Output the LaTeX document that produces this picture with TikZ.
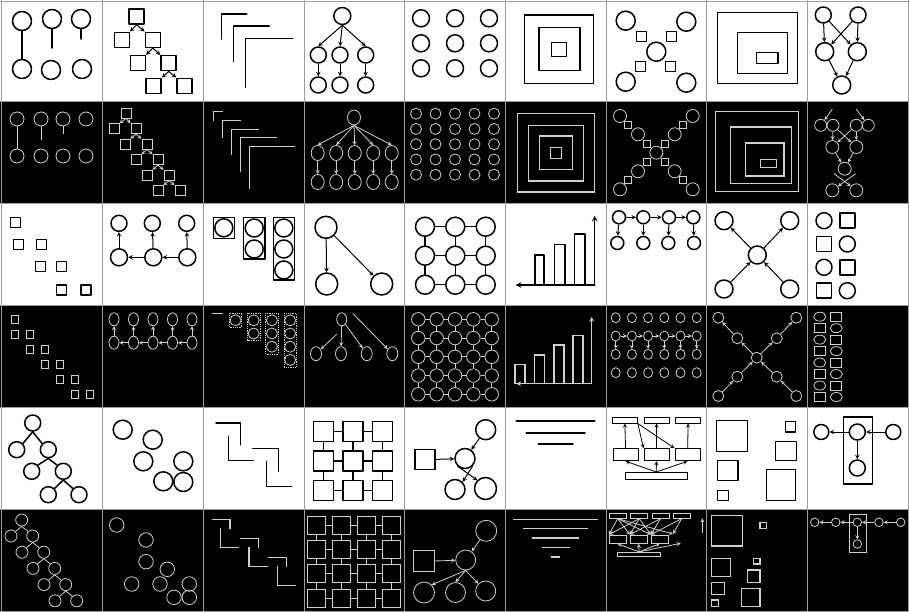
\documentclass[tikz,border=0pt]{standalone}
\usetikzlibrary{shapes.geometric}
\definecolor{chalk}{HTML}{D0D0D0}
\definecolor{gridline}{HTML}{9C9C9C}
\begin{document}
\begin{tikzpicture}[x=1pt, y=-1pt,
  pen/.style={line width=1.5pt, line cap=round, line join=round},
  chalkpen/.style={draw=chalk, line width=0.8pt},
  wcirc/.style={circle, draw, pen, inner sep=0pt, minimum size=#1},
  wbox/.style={rectangle, draw, pen, inner sep=0pt, minimum size=#1},
  wrect/.style 2 args={rectangle, draw, line width=1pt, inner sep=0pt, minimum width=#1, minimum height=#2},
  kcirc/.style={circle, chalkpen, inner sep=0pt, minimum size=#1},
  kbox/.style={rectangle, chalkpen, inner sep=0pt, minimum size=#1},
  kell/.style 2 args={ellipse, chalkpen, inner sep=0pt, minimum width=#1, minimum height=#2},
  krect/.style 2 args={rectangle, chalkpen, inner sep=0pt, minimum width=#1, minimum height=#2},
  warrow/.style={->, >=stealth, line width=1pt},
  karrow/.style={->, >=stealth, chalkpen}
]
\useasboundingbox (0,0) rectangle (909,612);
\fill[white] (0,0) rectangle (909,612);
\foreach \y in {101.5,305.5,509.5}
  \fill[black] (0,\y) rectangle (909,\y+102);

\foreach \n/\x/\y in {1/22/21,2/52/19,3/81/19,4/22/69,5/51/70,6/82/69}
  \node[wcirc=19] (c11o\n) at (\x,\y) {};
\coordinate (c11s2) at (52,48);
\coordinate (c11s3) at (81,39);
\draw[pen] (c11o1) -- (c11o4);
\draw[pen] (c11o2) -- (c11s2);
\draw[pen] (c11o3) -- (c11s3);

\foreach \i/\x in {1/17,2/41,3/63,4/86} {
  \node[kcirc=14] (c21t\i) at (\x,119) {};
  \node[kcirc=14] (c21b\i) at (\x,156) {};
}
\coordinate (c21s2) at (41,140);
\coordinate (c21s3) at (63,134);
\draw[chalkpen] (c21t1) -- (c21b1);
\draw[chalkpen] (c21t2) -- (c21s2);
\draw[chalkpen] (c21t3) -- (c21s3);

\foreach \n/\x/\y in {a/136.7/16.5,b/121.8/39.8,c/152.8/39.8,d/137.8/63.2,e/168.7/63.2,f/153.7/85.8,g/184.5/85.8}
  \node[wbox=15] (c12\n) at (\x,\y) {};
\foreach \pa/\lf/\rt in {a/b/c,c/d/e,e/f/g} {
  \draw[warrow] (c12\pa.south) -- (c12\lf.north east);
  \draw[warrow] (c12\pa.south) -- (c12\rt.north west);
}

\node[kbox=10] (c22a) at (126,113) {};
\foreach \i in {1,...,5} {
  \node[kbox=10] (c22l\i) at ({114+11*(\i-1)},{128.7+15.5*(\i-1)}) {};
  \node[kbox=10] (c22r\i) at ({136+11*(\i-1)},{128.7+15.5*(\i-1)}) {};
}
\draw[karrow] (c22a.south) -- (c22l1.north east);
\draw[karrow] (c22a.south) -- (c22r1.north west);
\foreach \i/\k in {1/2,2/3,3/4,4/5} {
  \draw[karrow] (c22r\i.south) -- (c22l\k.north east);
  \draw[karrow] (c22r\i.south) -- (c22r\k.north west);
}

\draw[pen] (221.7,39) -- (221.7,14) -- (246.7,14);
\draw[pen] (233.3,61.7) -- (233.3,26) -- (269.3,26);
\draw[pen] (245.7,87.3) -- (245.7,38.3) -- (292.7,38.3);

\foreach \i in {0,...,4}
  \draw[chalkpen, line width=1pt] ({213.3+9*\i},{112+8.6*\i+8.6*(\i+1)}) -- ({213.3+9*\i},{112+8.6*\i}) -- ({213.3+9*\i+9.2*(\i+1)},{112+8.6*\i});

\node[wcirc=17] (c14r) at (342.3,16) {};
\foreach \i/\x in {1/318.3,2/340,3/365.7} {
  \node[wcirc=16] (c14c\i) at (\x,55) {};
  \node[wcirc=16] (c14g\i) at (\x,85) {};
  \draw[warrow] (c14r.south) -- (c14c\i.north);
  \draw[warrow] (c14c\i) -- (c14g\i);
}

\node[kell={13}{15}] (c24r) at (354,117.5) {};
\foreach \i in {1,...,5} {
  \node[kell={13}{15}] (c24c\i) at ({317.7+18.5*(\i-1)},153) {};
  \node[kell={13}{15}] (c24g\i) at ({317.7+18.5*(\i-1)},182) {};
  \draw[karrow] (c24r.south) -- (c24c\i.north);
  \draw[karrow] (c24c\i) -- (c24g\i);
}

\foreach \i/\x in {1/421,2/455,3/489}
  \foreach \j/\y in {1/18.3,2/43.3,3/68.3}
    \node[wcirc=17] (c15n\i\j) at (\x,\y) {};

\foreach \i in {1,...,5}
  \foreach \j in {1,...,5}
    \node[kcirc=11] (c25n\i\j) at ({416+19.5*(\i-1)},{113.7+15.25*(\j-1)}) {};

\draw[pen] (524.7,15) rectangle (593.3,83.3);
\draw[pen] (539,27.7) rectangle (580,70.7);
\draw[pen] (551.7,42.3) rectangle (566.3,56.7);

\draw[chalkpen, line width=1.2pt] (517.3,113.7) rectangle (594.7,192);
\draw[chalkpen, line width=1.2pt] (528.3,125.3) rectangle (583.3,181);
\draw[chalkpen, line width=1.2pt] (539.7,136) rectangle (572.3,169.7);
\draw[chalkpen, line width=1.2pt] (550.7,147.7) rectangle (561.3,158.7);

\foreach \n/\x/\y in {tl/625.7/20.7,tr/686.3/21.7,m/656.3/51.7,bl/625.7/81.7,br/686.3/82.7}
  \node[wcirc=19] (c17\n) at (\x,\y) {};
\foreach \n/\x/\y in {1/641.3/36.7,2/671.3/36.7,3/640.7/66.7,4/670.7/66.7}
  \node[wbox=10] (c17q\n) at (\x,\y) {};

\foreach \n/\x/\y in {1/620/116,2/638/134.3,3/656.3/152.7,4/674.7/134.3,5/692.7/116,6/638/171.3,7/620/189.3,8/674.7/171.3,9/692.7/189.3}
  \node[kcirc=13] (c27o\n) at (\x,\y) {};
\foreach \n/\x/\y in {1/628/125.3,2/646.7/143.7,3/665/143.7,4/683.3/125.3,5/646.7/162,6/628/180.3,7/665/162,8/683.3/180.3}
  \node[kbox=7] (c27q\n) at (\x,\y) {};

\draw[pen] (717.3,12.3) rectangle (797.3,83.3);
\draw[pen] (737.3,32.3) rectangle (787.3,73.3);
\draw[pen] (756.7,52.7) rectangle (778,63.3);

\draw[chalkpen, line width=1.2pt] (715.7,111.3) rectangle (798.3,191.3);
\draw[chalkpen, line width=1.2pt] (730.7,127) rectangle (791.3,183.7);
\draw[chalkpen, line width=1.2pt] (745.7,143) rectangle (784,176);
\draw[chalkpen, line width=1.2pt] (760.7,159.3) rectangle (776.3,167.7);

\node[wcirc=16] (c19a) at (823.3,15) {};
\node[wcirc=16] (c19b) at (858,15) {};
\node[wcirc=18] (c19c) at (824.7,51.7) {};
\node[wcirc=18] (c19d) at (857.3,51.7) {};
\node[wcirc=18] (c19e) at (841.7,85) {};
\foreach \s/\t in {a/c,a/d,b/d,b/c,c/e,d/e}
  \draw[warrow] (c19\s) -- (c19\t);

\foreach \i/\x in {1/820.7,2/833,3/856.3,4/868.3}
  \node[kcirc=12] (c29a\i) at (\x,125.3) {};
\node[kcirc=13] (c29m1) at (832.3,147) {};
\node[kcirc=13] (c29m2) at (856.3,147) {};
\node[kcirc=13] (c29n) at (844.7,168.7) {};
\node[kcirc=13] (c29b1) at (832.3,190.3) {};
\node[kcirc=13] (c29b2) at (856.3,190.3) {};
\coordinate (c29p) at (832.3,109.3);
\coordinate (c29q) at (856.3,109.3);
\coordinate (c29u) at (834,173.7);
\coordinate (c29v) at (855.7,173.7);
\draw[karrow] (c29p) -- (c29a1);
\draw[karrow] (c29q) -- (c29a4);
\foreach \s/\t in {a2/m1,a2/m2,a3/m2,a3/m1,m1/n,m2/n}
  \draw[karrow] (c29\s) -- (c29\t);
\draw[karrow] (c29u) -- (c29b2);
\draw[karrow] (c29v) -- (c29b1);

\foreach \n/\x/\y in {1/15.7/222.3,2/18.3/244.7,3/41.7/244.7,4/40.7/266.7,5/61.7/266.7,6/61.7/290,7/86/290}
  \node[wbox=10] (c31q\n) at (\x,\y) {};

\node[kbox=7.5] (c41q0) at (15,319.3) {};
\foreach \i in {1,...,5} {
  \node[kbox=7.5] (c41l\i) at ({15+15*(\i-1)},{334.3+15*(\i-1)}) {};
  \node[kbox=7.5] (c41r\i) at ({30+15*(\i-1)},{334.3+15*(\i-1)}) {};
}

\foreach \i/\x in {1/119,2/152.3,3/186.7}
  \node[wcirc=16] (c32t\i) at (\x,223.3) {};
\foreach \i/\x in {1/119,2/153.3,3/187.3}
  \node[wcirc=17] (c32b\i) at (\x,257.3) {};
\foreach \i in {1,2,3}
  \draw[warrow] (c32b\i) -- (c32t\i);
\draw[warrow] (c32b3) -- (c32b2);
\draw[warrow] (c32b2) -- (c32b1);

\foreach \i in {1,...,5} {
  \node[kell={10}{13}] (c42t\i) at ({114+19.5*(\i-1)},319.3) {};
  \node[kell={10}{13}] (c42b\i) at ({114+19.5*(\i-1)},342.7) {};
  \draw[karrow] (c42b\i) -- (c42t\i);
}
\foreach \i/\k in {2/1,3/2,4/3,5/4}
  \draw[karrow] (c42b\i) -- (c42b\k);

\draw[pen] (213.3,217.3) rectangle (234.3,238.3);
\draw[pen] (243.3,217.3) rectangle (265,259);
\draw[pen] (273.3,217.3) rectangle (294.3,280);
\node[wcirc=18] (c33a1) at (223.8,227.8) {};
\node[wcirc=18] (c33b1) at (254.2,228) {};
\node[wcirc=18] (c33b2) at (254.2,249) {};
\node[wcirc=18] (c33c1) at (283.8,228) {};
\node[wcirc=18] (c33c2) at (283.8,249) {};
\node[wcirc=18] (c33c3) at (283.8,270) {};

\draw[chalkpen] (211.7,313.3) -- (222.7,313.3);
\foreach \k in {1,...,4} {
  \draw[chalkpen, densely dotted] ({229.3+18.2*(\k-1)},313.3) rectangle ({241.8+18.2*(\k-1)},{314.3+13.2*\k});
  \foreach \m in {1,...,\k}
    \node[kcirc=11] (c43n\k\m) at ({235.5+18.2*(\k-1)},{320.3+13.2*(\m-1)}) {};
}

\node[wcirc=22] (c34r) at (326,227.3) {};
\node[wcirc=22] (c34a) at (326.7,284) {};
\node[wcirc=22] (c34b) at (381.7,284) {};
\draw[warrow] (c34r) -- (c34a);
\draw[warrow] (c34r) -- (c34b);

\node[kell={10}{13}] (c44r) at (341.7,319.3) {};
\foreach \i/\x in {1/316,2/341,3/366.7,4/392.3}
  \node[kell={11}{14}] (c44c\i) at (\x,353.7) {};
\coordinate (c44p) at (336.7,334.3);
\coordinate (c44q) at (352.7,313.3);
\draw[karrow] (c44r) -- (c44c2);
\draw[karrow] (c44r) -- (c44c3);
\draw[karrow] (c44p) -- (c44c1);
\draw[karrow] (c44q) -- (c44c4);

\foreach \i/\x in {1/425,2/455.3,3/485.7}
  \foreach \j/\y in {1/226.7,2/255.7,3/284.7}
    \node[wcirc=19] (c35n\i\j) at (\x,\y) {};
\foreach \i/\k in {1/2,2/3}
  \foreach \j in {1,2,3} {
    \draw[pen] (c35n\i\j) -- (c35n\k\j);
    \draw[pen] (c35n\j\i) -- (c35n\j\k);
  }

\foreach \i in {1,...,5}
  \foreach \j in {1,...,5}
    \node[kcirc=13.5] (c45n\i\j) at ({418.3+18.35*(\i-1)},{319.3+18.75*(\j-1)}) {};
\foreach \i/\k in {1/2,2/3,3/4,4/5}
  \foreach \j in {1,...,5} {
    \draw[chalkpen] (c45n\i\j) -- (c45n\k\j);
    \draw[chalkpen] (c45n\j\i) -- (c45n\j\k);
  }

\coordinate (c36o) at (594.7,285);
\coordinate (c36x) at (515.7,285);
\coordinate (c36y) at (594.7,215.7);
\draw[pen] (535,285) rectangle (544,255);
\draw[pen] (554.7,285) rectangle (565,244.7);
\draw[pen] (574.7,285) rectangle (585,234);
\draw[pen, ->, >=stealth] (c36o) -- (c36x);
\draw[pen, ->, >=stealth] (c36o) -- (c36y);

\coordinate (c46o) at (591.7,383.7);
\coordinate (c46x) at (516.3,383.7);
\coordinate (c46y) at (591.7,317);
\draw[chalkpen, line width=1.1pt] (515,383.7) rectangle (525,364.3);
\draw[chalkpen, line width=1.1pt] (534.7,383.7) rectangle (544.7,355);
\draw[chalkpen, line width=1.1pt] (554,383.7) rectangle (564,345);
\draw[chalkpen, line width=1.1pt] (573,383.7) rectangle (583,335.3);
\draw[karrow, line width=1.1pt] (c46o) -- (c46x);
\draw[karrow, line width=1.1pt] (c46o) -- (c46y);

\foreach \i/\x/\u in {1/619/617.3,2/643.3/643.3,3/669/668.3,4/693.3/694} {
  \node[wcirc=13] (c37t\i) at (\x,217.3) {};
  \node[wcirc=13] (c37b\i) at (\u,243) {};
  \draw[warrow] (c37t\i) -- (c37b\i);
}
\foreach \i/\k in {1/2,2/3,3/4}
  \draw[warrow] (c37t\i) -- (c37t\k);

\foreach \i in {1,...,6}
  \foreach \j/\y in {1/317.7,2/336,3/354.3,4/372.7}
    \node[kell={9}{10}] (c47n\i\j) at ({615.7+16.2*(\i-1)},\y) {};
\foreach \i/\k in {1/2,2/3,3/4,4/5,5/6}
  \draw[karrow] (c47n\i2) -- (c47n\k2);
\foreach \i in {1,...,6}
  \draw[karrow] (c47n\i2) -- (c47n\i3);

\foreach \n/\x/\y in {tl/724/220.7,tr/789.7/220.7,m/757.3/255,bl/724/289,br/789.7/289}
  \node[wcirc=18] (c38\n) at (\x,\y) {};
\foreach \s/\t in {m/tl,m/tr,bl/m,br/m}
  \draw[warrow] (c38\s) -- (c38\t);

\foreach \n/\x/\y in {tl/718.3/317.7,tr/796.3/317.7,ul/737.3/338.3,ur/776.7/338.3,m/756.7/357.7,dl/737.3/376.7,dr/776.7/376.7,bl/718.3/396,br/796.3/396}
  \node[kcirc=11] (c48\n) at (\x,\y) {};
\foreach \s/\t in {m/ul,ul/tl,m/ur,ur/tr,bl/dl,dl/m,br/dr,dr/m}
  \draw[karrow] (c48\s) -- (c48\t);

\node[wcirc=16] (c39a1) at (824,220.7) {};
\node[wbox=15] (c39a2) at (824,244) {};
\node[wcirc=16] (c39a3) at (824,267.3) {};
\node[wbox=15] (c39a4) at (824,290.7) {};
\node[wbox=15] (c39b1) at (847.3,220.7) {};
\node[wcirc=16] (c39b2) at (847.3,244) {};
\node[wbox=15] (c39b3) at (847.3,267.3) {};
\node[wcirc=16] (c39b4) at (847.3,290.7) {};

\foreach \k in {0,2,4,6} {
  \node[kell={12}{9}] (c49a\k) at (819.7,{316.7+11.47*\k}) {};
  \node[krect={11}{9}] (c49b\k) at (836.3,{316.7+11.47*\k}) {};
  \node[krect={11}{9}] (c49c\k) at (819.7,{316.7+11.47*(\k+1)}) {};
  \node[kell={12}{9}] (c49d\k) at (836.3,{316.7+11.47*(\k+1)}) {};
}

\foreach \n/\x/\y in {a/32.7/423,b/16.7/449.7,c/48.3/449.7,d/31.7/471.3,e/63.3/471.3,f/48.3/494.7,g/79/494.7}
  \node[wcirc=16] (c51\n) at (\x,\y) {};
\foreach \pa/\lf/\rt in {a/b/c,c/d/e,e/f/g} {
  \draw[pen] (c51\pa.south) -- (c51\lf.north east);
  \draw[pen] (c51\pa.south) -- (c51\rt.north west);
}

\node[kcirc=12] (c61a) at (21.7,520) {};
\foreach \i in {1,...,5} {
  \node[kcirc=12] (c61l\i) at ({11+11*(\i-1)},{536+16.2*(\i-1)}) {};
  \node[kcirc=12] (c61r\i) at ({32.7+11*(\i-1)},{536+16.2*(\i-1)}) {};
}
\draw[chalkpen] (c61a.south) -- (c61l1.north east);
\draw[chalkpen] (c61a.south) -- (c61r1.north west);
\foreach \i/\k in {1/2,2/3,3/4,4/5} {
  \draw[chalkpen] (c61r\i.south) -- (c61l\k.north east);
  \draw[chalkpen] (c61r\i.south) -- (c61r\k.north west);
}

\foreach \n/\x/\y in {1/122.7/429.7,2/152.7/439.7,3/143.3/461.3,4/183.3/461.3,5/163.3/481.3,6/183.3/482}
  \node[wcirc=19] (c52o\n) at (\x,\y) {};

\foreach \n/\x/\y in {1/116.7/525,2/146/540,3/146/561.7,4/167.3/569.3,5/131.7/584,6/160/584,7/189.3/584,8/174/597.3,9/189.3/597.3}
  \node[kcirc=14.5] (c62o\n) at (\x,\y) {};

\draw[pen] (216,423) -- (240.7,423) -- (240.7,444.7);
\draw[pen] (228.3,436.3) -- (228.3,460.3) -- (253.3,460.3);
\draw[pen] (252.7,448.7) -- (278.3,448.7) -- (278.3,471.3);
\draw[pen] (266.7,461.3) -- (266.7,486.3) -- (291.7,486.3);

\foreach \i in {0,1,2} {
  \draw[chalkpen, line width=1.1pt] ({211.7+28.3*\i},{519.3+19*\i}) -- ({230+28.3*\i},{519.3+19*\i}) -- ({230+28.3*\i},{529+19*\i});
  \draw[chalkpen, line width=1.1pt] ({220.7+28.3*\i},{528.3+19*\i}) -- ({220.7+28.3*\i},{547.3+19*\i}) -- ({239.3+28.3*\i},{547.3+19*\i});
}

\foreach \i in {1,2,3}
  \foreach \j in {1,2,3}
    \node[wbox=20] (c54n\i\j) at ({323.3+29.7*(\i-1)},{431.3+29.7*(\j-1)}) {};
\foreach \i/\k in {1/2,2/3}
  \foreach \j in {1,2,3} {
    \draw[pen] (c54n\i\j) -- (c54n\k\j);
    \draw[pen] (c54n\j\i) -- (c54n\j\k);
  }

\foreach \i in {1,...,4}
  \foreach \j in {1,...,4}
    \node[kbox=18] (c64n\i\j) at ({316.7+25*(\i-1)},{525+24.4*(\j-1)}) {};
\foreach \i/\k in {1/2,2/3,3/4}
  \foreach \j in {1,...,4} {
    \draw[chalkpen] (c64n\i\j) -- (c64n\k\j);
    \draw[chalkpen] (c64n\j\i) -- (c64n\j\k);
  }

\node[wbox=20] (c55q) at (425,459.7) {};
\node[wcirc=20] (c55t) at (485.7,429.7) {};
\node[wcirc=20] (c55m) at (465,458.5) {};
\node[wcirc=20] (c55l) at (455,489.5) {};
\node[wcirc=22] (c55r) at (485.5,488.5) {};
\draw[warrow] (c55q) -- (c55m);
\draw[warrow] (c55t) -- (c55m);
\draw[warrow] (c55m.south west) -- (c55r.north west);
\draw[warrow] (c55m.south east) -- (c55l.north east);

\node[kbox=21] (c65q) at (424.2,561.3) {};
\node[kcirc=21] (c65t) at (486.2,530.8) {};
\node[kcirc=20] (c65m) at (465.7,560) {};
\node[kcirc=21] (c65l) at (424,592.5) {};
\node[kcirc=20] (c65c) at (455.5,592.5) {};
\node[kcirc=20] (c65r) at (485.7,591) {};
\draw[karrow] (c65q) -- (c65m);
\draw[karrow] (c65t) -- (c65m);
\draw[karrow] (c65m.south) -- (c65l.north east);
\draw[karrow] (c65m.south) -- (c65c.north);
\draw[karrow] (c65m.south) -- (c65r.north west);

\draw[pen, line width=1.8pt] (516.3,421.3) -- (594.7,421.3);
\draw[pen, line width=1.8pt] (526.3,433) -- (585,433);
\draw[pen, line width=1.8pt] (538.3,444) -- (573,444);

\foreach \i/\a/\b in {0/513.3/598,1/523/588,2/532.3/579,3/541.7/569.7,4/551.3/560}
  \draw[chalkpen, line width=1.4pt] (\a,{519.3+9.4*\i}) -- (\b,{519.3+9.4*\i});

\foreach \i/\x in {1/624.8,2/656.5,3/688.2}
  \node[wrect={25}{6}] (c57t\i) at (\x,420) {};
\foreach \i/\x in {1/625.7,2/656.5,3/687.5}
  \node[wrect={25}{12}] (c57m\i) at (\x,454.7) {};
\node[wrect={62}{7}] (c57b) at (656.2,476) {};
\foreach \i in {1,2,3} {
  \draw[->, >=stealth, line width=0.8pt] (c57b.north) -- (c57m\i.south);
  \draw[->, >=stealth, line width=0.8pt] (c57m\i) -- (c57t\i);
}
\draw[->, >=stealth, line width=0.8pt] (c57t1.south east) -- (c57m3.north west);
\draw[->, >=stealth, line width=0.8pt] (c57t1.south east) -- (c57m2.north west);

\foreach \i/\x in {1/617.7,2/639.3,3/660.5,4/681.5}
  \node[krect={17}{4.5}] (c67t\i) at (\x,516) {};
\foreach \i/\x in {1/617.7,2/638.7,3/659.8}
  \node[krect={17}{8.3}] (c67m\i) at (\x,539.2) {};
\node[krect={43}{4.5}] (c67b) at (639,554.5) {};
\coordinate (c67p) at (673,534);
\coordinate (c67q) at (680.7,543.3);
\coordinate (c67u) at (702.3,533.3);
\coordinate (c67v) at (702.3,518.3);
\draw[karrow] (c67u) -- (c67v);
\foreach \i in {1,2,3}
  \draw[karrow] (c67b.north) -- (c67m\i.south);
\draw[karrow] (c67b.north) -- (c67q);
\foreach \i/\k in {1/1,1/2,1/3,2/2,2/1,2/3,3/3,3/2,4/3}
  \draw[karrow] (c67t\i.south) -- (c67m\k.north west);
\draw[karrow] (c67t1.south) -- (c67p);
\draw[karrow] (c67t4.south) -- (c67p);

\draw[pen] (716.7,420.3) rectangle (747.3,451.3);
\draw[pen] (785.7,421.3) rectangle (795.7,432);
\draw[pen] (775.7,441.3) rectangle (796.3,460.7);
\draw[pen] (717.3,460.7) rectangle (738,480.7);
\draw[pen] (717.3,490.7) rectangle (728.3,500.7);
\draw[pen] (766.3,469.7) rectangle (795.7,500.7);

\draw[chalkpen, line width=1.1pt] (711.7,515.7) rectangle (742.3,546);
\draw[chalkpen, line width=1.1pt] (760,522.3) rectangle (766.3,528.3);
\draw[chalkpen, line width=1.1pt] (711.7,558.3) rectangle (730.7,576.7);
\draw[chalkpen, line width=1.1pt] (753.3,558.3) rectangle (760,564);
\draw[chalkpen, line width=1.1pt] (747.3,570) rectangle (760,582.7);
\draw[chalkpen, line width=1.1pt] (711.7,582.3) rectangle (724.7,594.3);
\draw[chalkpen, line width=1.1pt] (741.3,588.3) rectangle (760,606.7);
\draw[chalkpen, line width=1.1pt] (711.7,600) rectangle (718.3,606.7);

\draw[pen] (843.3,417) rectangle (872.3,484);
\node[wcirc=15] (c59l) at (821.3,432) {};
\node[wcirc=16] (c59c) at (857.3,432) {};
\node[wcirc=15] (c59r) at (893.3,432) {};
\node[wcirc=16] (c59d) at (857.3,468) {};
\draw[warrow] (c59c) -- (c59l);
\draw[warrow] (c59r) -- (c59c);
\draw[warrow] (c59c) -- (c59d);

\draw[chalkpen] (849,514) rectangle (866.3,552.7);
\foreach \i/\x in {1/814.7,2/835.7,3/857.3,4/879,5/900.7}
  \node[kcirc=8.5] (c69o\i) at (\x,522.3) {};
\node[kcirc=8.5] (c69d) at (857.3,544) {};
\foreach \i/\k in {2/1,3/2,4/3,5/4}
  \draw[karrow] (c69o\i) -- (c69o\k);
\draw[karrow] (c69o3) -- (c69d);

\foreach \x in {1,102,203,304,404.5,505,606,706.5,807,908}
  \draw[gridline, line width=1pt] (\x,0) -- (\x,612);
\foreach \y in {1.5,101.5,203.5,305.5,407.5,509.5,611.5}
  \draw[gridline, line width=1pt] (0,\y) -- (909,\y);
\end{tikzpicture}
\end{document}
